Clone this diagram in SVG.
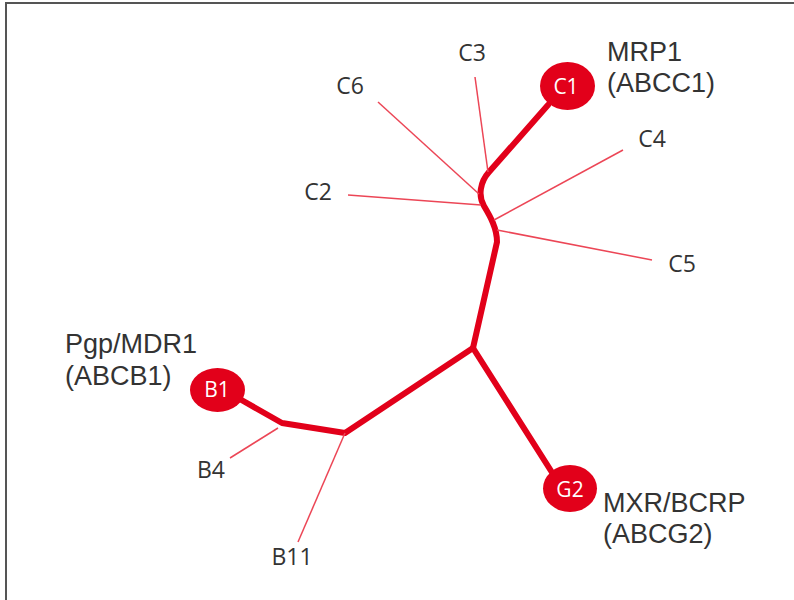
<svg xmlns="http://www.w3.org/2000/svg" width="794" height="600" viewBox="0 0 794 600">
<style>
.thick{fill:none;stroke:#e2001a;stroke-width:6;stroke-linejoin:round;stroke-linecap:round}
.thin{fill:none;stroke:#ec4656;stroke-width:1.5}
.node{fill:#e2001a}
.nl{font-family:"Open Sans","Liberation Sans",sans-serif;font-size:21px;fill:#ffffff;text-anchor:middle}
.sl{font-family:"Open Sans","Liberation Sans",sans-serif;font-size:23px;fill:#333333;text-anchor:middle}
.bl{font-family:"Liberation Sans",Arial,sans-serif;font-size:27px;fill:#333333}
</style>
<rect x="0" y="0" width="794" height="600" fill="#ffffff"/>
<path d="M6,604 V3 H800" fill="none" stroke="#555555" stroke-width="2"/>
<g id="connectors">
<path class="thick" d="M548,105 L489,172 C480,182 478,196 484,206 C490,216 497,228 497,242 L473,348"/>
<path class="thick" d="M473,348 L553,474"/>
<path class="thick" d="M473,348 L345,433 L282,423 L238,398"/>
<line class="thin" x1="475" y1="77" x2="488" y2="172"/>
<line class="thin" x1="378" y1="102" x2="479" y2="194"/>
<line class="thin" x1="348" y1="195" x2="481" y2="205"/>
<line class="thin" x1="623" y1="150" x2="494" y2="220"/>
<line class="thin" x1="652" y1="260" x2="497" y2="230"/>
<line class="thin" x1="278" y1="428" x2="230" y2="458"/>
<line class="thin" x1="345" y1="433" x2="298" y2="542"/>
</g>
<g id="C1">
<ellipse class="node" cx="567.5" cy="86" rx="27.5" ry="24"/>
<text class="nl" x="566" y="94">C1</text>
<text class="bl" x="607" y="61">MRP1</text>
<text class="bl" x="607" y="92">(ABCC1)</text>
</g>
<g id="B1">
<ellipse class="node" cx="217.5" cy="390" rx="27.5" ry="22"/>
<text class="nl" x="217" y="397">B1</text>
<text class="bl" x="65" y="353">Pgp/MDR1</text>
<text class="bl" x="65" y="385">(ABCB1)</text>
</g>
<g id="G2">
<ellipse class="node" cx="570" cy="488.5" rx="27" ry="23.5"/>
<text class="nl" x="570" y="497">G2</text>
<text class="bl" x="603" y="512">MXR/BCRP</text>
<text class="bl" x="603" y="543">(ABCG2)</text>
</g>
<g id="C3"><text class="sl" x="472" y="61">C3</text></g>
<g id="C6"><text class="sl" x="350" y="94">C6</text></g>
<g id="C2"><text class="sl" x="318" y="200">C2</text></g>
<g id="C4"><text class="sl" x="652" y="147">C4</text></g>
<g id="C5"><text class="sl" x="682" y="272">C5</text></g>
<g id="B4"><text class="sl" x="211" y="478">B4</text></g>
<g id="B11"><text class="sl" x="292" y="565">B11</text></g>
</svg>
